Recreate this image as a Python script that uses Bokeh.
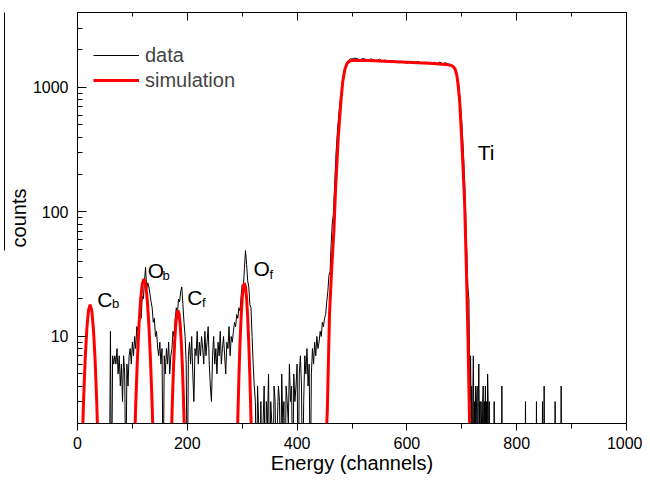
import numpy as np
from bokeh.plotting import figure
from bokeh.models import (LinearAxis, SingleIntervalTicker, LogTicker, Legend, LegendItem,
                          Label, Range1d, PrintfTickFormatter, LinearScale)
from bokeh.embed import file_html
from bokeh.resources import INLINE

# ---------------- data (counts per channel) ----------------
# low-energy region, every 2nd channel starting at 58
low_start, low_step = 58, 2
low_counts = [0, 11, 0, 7, 6, 7, 6, 8, 5, 7, 4, 6, 3, 7, 5, 0, 6, 4, 7, 8, 6, 9, 7, 10,
              8, 12, 11, 13, 16, 14, 21, 20, 28, 36, 24, 27, 25, 22, 19, 17, 13, 14, 10, 11, 8, 7, 9,
              6, 8, 0, 7, 5, 8, 6, 9, 5, 7, 8, 11, 10, 14, 17, 15, 20, 19, 23, 25, 18, 13, 10, 6, 0,
              7, 9, 6, 10, 5, 3, 8, 7, 11, 6, 9, 7, 10, 8, 6, 11, 7, 9, 12, 6, 4, 3, 7, 10, 6, 8, 5, 9,
              7, 11, 6, 8, 10, 7, 5, 9, 8, 12, 7, 10, 9, 11,
              13, 12, 15, 14, 17, 16, 21, 26, 24, 35, 49, 38, 28, 25, 18, 17, 10, 6, 4,
              3, 0, 4, 2, 0, 3, 0, 2, 4, 0, 3, 2, 5, 0, 3, 2, 0, 4, 3, 0, 2, 4, 3, 0, 5, 2, 3, 0, 4, 3,
              2, 6, 3, 4, 0, 5, 3, 4,
              6, 0, 5, 7, 4, 0, 3, 7, 5, 8, 4, 6, 0, 5, 8, 6, 9, 7, 10, 8, 9, 11, 10, 13, 12, 14, 15]
# Ti leading edge
rise_ch = [454, 456, 458, 460, 462, 464, 466, 468, 471, 474, 477, 480, 483, 486, 489, 492, 495, 498]
rise_counts = [19, 23, 31, 33, 55, 80, 95, 150, 300, 480, 680, 880, 1150, 1380, 1520, 1620, 1680, 1700]
# Ti plateau, every 5th channel starting at 500
plat_start, plat_step = 500, 5
plat_counts = [1690, 1720, 1700, 1660, 1710, 1680, 1650, 1700, 1660, 1640,
               1690, 1620, 1660, 1630, 1600, 1650, 1610, 1580, 1620, 1600,
               1560, 1610, 1590, 1570, 1620, 1580, 1550, 1600, 1570, 1540,
               1590, 1560, 1600, 1550, 1580, 1540, 1510]
# Ti trailing edge
fall_ch = [684, 688, 691, 694, 697, 700, 703, 706, 709, 711, 713]
fall_counts = [1470, 1400, 1280, 1100, 800, 520, 300, 140, 50, 25, 20]
# tail, every channel starting at 714
tail_start = 714
tail_counts = [6, 3, 7, 2, 4, 0, 3, 7, 2, 3, 0, 4, 2, 3, 4, 0, 3, 6, 2, 3,
               0, 3, 2, 0, 3, 4, 0, 3, 2, 4, 0, 3, 0, 5, 3, 0, 3, 0]
# isolated single counts further out (all other channels are empty)
spike_ch = [759, 773, 816, 836, 847, 850, 870, 881]
spike_counts = [3, 4, 3, 3, 3, 4, 3, 4]

# ---------------- simulation ----------------
sim_cb_ch = [8, 11, 14, 17, 20, 23, 26, 29, 32, 35, 38]
sim_cb = [1.1, 3.0, 6.6, 11.5, 16.1, 18, 16.1, 11.5, 6.6, 3.0, 1.1]
sim_ob_ch = [103, 106, 109, 112, 115, 118, 121, 124, 127, 130, 133, 136, 139]
sim_ob = [0.98, 2.8, 6.4, 12.4, 19.9, 26.4, 29, 26.4, 19.9, 12.4, 6.4, 2.8, 0.98]
sim_cf_ch = [171, 173, 175, 177, 179, 181, 183, 185, 187, 189, 191, 193, 195]
sim_cf = [1.6, 3.2, 5.8, 9.1, 12.5, 15.2, 16.2, 15.2, 12.5, 9.1, 5.8, 3.2, 1.6]
sim_of_ch = [290, 292, 294, 296, 298, 300, 302, 304, 306, 308, 310, 312, 314, 316, 318]
sim_of = [0.88, 2.2, 4.7, 8.8, 14.3, 20.3, 25, 26.8, 25, 20.3, 14.3, 8.8, 4.7, 2.2, 0.88]
sim_ti_ch = [452, 455, 459, 463, 467, 470, 475, 480, 483, 487, 491, 495, 500, 520, 540, 560,
             580, 600, 620, 640, 660, 675, 681, 685, 688, 691, 693, 696, 699, 702, 705, 708,
             711, 714, 717]
sim_ti = [1.2, 2.5, 15, 35, 70, 150, 400, 790, 1100, 1400, 1560, 1620, 1650, 1655, 1640, 1625,
          1610, 1595, 1580, 1565, 1545, 1525, 1500, 1460, 1400, 1250, 1070, 790, 450, 240, 123, 40,
          11, 2.2, 0.8]

x_label = "Energy (channels)"
y_label = "counts"

# ---------------- assemble the measured spectrum ----------------
ch, cnt = [], []
for i, c in enumerate(low_counts):
    ch.append(low_start + low_step * i); cnt.append(c)
ch += rise_ch; cnt += rise_counts
for i, c in enumerate(plat_counts):
    ch.append(plat_start + plat_step * i); cnt.append(c)
ch += fall_ch; cnt += fall_counts
for i, c in enumerate(tail_counts):
    ch.append(tail_start + i); cnt.append(c)
for c0, c in zip(spike_ch, spike_counts):
    ch += [c0 - 1, c0, c0 + 1]; cnt += [0, c, 0]
ch = np.array(ch, dtype=float)
cnt = np.array(cnt, dtype=float)
cnt_plot = np.where(cnt > 0, cnt, 0.5)   # empty channels fall below the axis

FONT = "Liberation Sans"

p = figure(width=642, height=479, x_range=Range1d(0, 1000), y_range=Range1d(2, 4000),
           y_axis_type="log", output_backend="svg", toolbar_location=None,
           min_border_left=77, min_border_right=16, min_border_top=12, min_border_bottom=56)
p.xgrid.visible = False
p.ygrid.visible = False
p.outline_line_color = "black"
p.outline_line_alpha = 1
p.outline_line_width = 1
p.background_fill_color = "white"
p.border_fill_color = "white"

# bottom axis
xa = p.xaxis[0]
xa.ticker = SingleIntervalTicker(interval=200, num_minor_ticks=2)
xa.axis_label = x_label
xa.axis_label_text_font = FONT
xa.axis_label_text_font_style = "normal"
xa.axis_label_text_font_size = "20px"
xa.axis_label_text_color = "black"
xa.axis_label_standoff = 0
xa.major_label_text_font = FONT
xa.major_label_text_font_size = "16px"
xa.major_label_text_color = "black"
xa.major_label_standoff = 6
xa.major_tick_in = 0
xa.major_tick_out = 7
xa.minor_tick_in = 0
xa.minor_tick_out = 5
xa.axis_line_color = "black"; xa.major_tick_line_color = "black"; xa.minor_tick_line_color = "black"

# left axis
ya = p.yaxis[0]
ya.ticker = LogTicker(mantissas=[1], num_minor_ticks=10, desired_num_ticks=3)
ya.formatter = PrintfTickFormatter(format="%d")
ya.axis_label = y_label
ya.axis_label_text_font = FONT
ya.axis_label_text_font_style = "normal"
ya.axis_label_text_font_size = "20px"
ya.axis_label_text_line_height = 0.8
ya.axis_label_text_color = "black"
ya.axis_label_standoff = 0
ya.major_label_text_font = FONT
ya.major_label_text_font_size = "16px"
ya.major_label_text_color = "black"
ya.major_label_standoff = 9
ya.major_tick_in = 9
ya.major_tick_out = 0
ya.minor_tick_in = 5
ya.minor_tick_out = 0
ya.axis_line_color = "black"; ya.major_tick_line_color = "black"; ya.minor_tick_line_color = "black"

# outer left "axis" that only draws the bar over the rotated y label
p.extra_y_ranges = {"bar": Range1d(0, 411)}
p.extra_y_scales = {"bar": LinearScale()}
bar = LinearAxis(y_range_name="bar", bounds=(173, 411),
                 major_tick_in=0, major_tick_out=0, minor_tick_in=0, minor_tick_out=0,
                 major_tick_line_color=None, minor_tick_line_color=None,
                 major_label_text_font_size="0px", major_label_text_color=None,
                 major_label_standoff=0, axis_line_color="black", axis_line_width=1)
p.add_layout(bar, "left")

# top axis (ticks only, pointing inward, no labels)
top = LinearAxis(ticker=SingleIntervalTicker(interval=200, num_minor_ticks=2),
                 major_label_text_font_size="0px", major_label_text_color=None,
                 major_label_standoff=0,
                 major_tick_in=8, major_tick_out=0, minor_tick_in=4, minor_tick_out=0,
                 axis_line_color="black", major_tick_line_color="black", minor_tick_line_color="black")
p.add_layout(top, "above")

# curves
r_data = p.line(ch, cnt_plot, line_color="black", line_width=1)
sim_lines = []
for xs, ys in [(sim_cb_ch, sim_cb), (sim_ob_ch, sim_ob), (sim_cf_ch, sim_cf),
               (sim_of_ch, sim_of), (sim_ti_ch, sim_ti)]:
    sim_lines.append(p.line(xs, ys, line_color="#ff0000", line_width=3))

legend = Legend(items=[LegendItem(label="data", renderers=[r_data]),
                       LegendItem(label="simulation", renderers=[sim_lines[-1]])],
                location=(0, 315), padding=16, margin=0, spacing=1,
                glyph_width=46, glyph_height=24, label_height=24, label_standoff=6,
                label_text_font=FONT, label_text_font_size="20px",
                border_line_alpha=0, background_fill_alpha=0)
p.add_layout(legend)

# peak annotations (main letter + subscript)
def tag(x, y, txt, sx, sy, sub):
    p.add_layout(Label(x=x, y=y, text=txt, text_font=FONT, text_font_size="21px",
                       text_baseline="alphabetic", text_color="black"))
    if sub:
        p.add_layout(Label(x=sx, y=sy, text=sub, text_font=FONT, text_font_size="13px",
                           text_baseline="alphabetic", text_color="black"))

tag(36, 19.8, "C", 63, 18.5, "b")
tag(128, 33.9, "O", 155, 30.9, "b")
tag(200, 20.6, "C", 227, 18.75, "f")
tag(320.7, 35.2, "O", 349.5, 31.5, "f")
tag(729, 300, "Ti", 0, 0, "")

open("out.html", "w").write(file_html(p, INLINE))
